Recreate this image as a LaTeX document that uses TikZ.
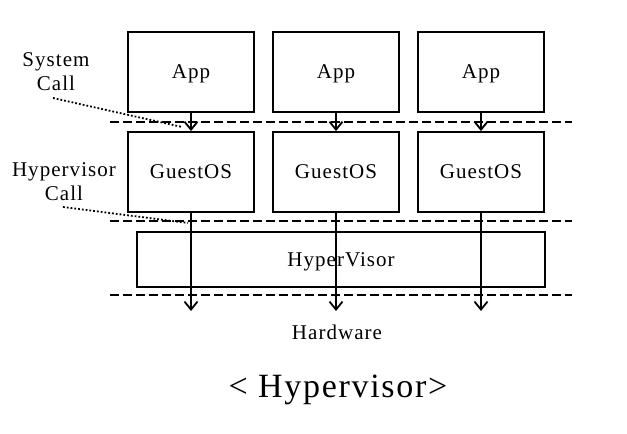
\documentclass[tikz,border=0pt]{standalone}
\usepackage{fontspec}
\setmainfont{Liberation Serif}[LetterSpace=5]
\usetikzlibrary{arrows.meta,positioning}

\tikzset{
    layerbox/.style={draw, line width=1.8pt, minimum width=126pt, minimum height=80pt,
        inner sep=0pt, text depth=0pt, font=\fontsize{21}{24}\selectfont},
    calltip/.style={-{Straight Barb[length=8pt, width=13pt, line width=1.8pt]}, line width=1.8pt},
    boundary/.style={dash pattern=on 9pt off 4pt, line width=1.6pt},
    pointer/.style={dotted, line width=1.8pt},
    sidelabel/.style={align=center, inner sep=0pt, font=\fontsize{21}{24}\selectfont},
}

\begin{document}
\begin{tikzpicture}[x=1pt, y=1pt]
    \useasboundingbox (0,0) rectangle (627,434);

    % applications and guests
    \node[layerbox] (app1) at (191,362) {App};
    \node[layerbox, right=17.2pt of app1] (app2) {App};
    \node[layerbox, right=17.2pt of app2] (app3) {App};
    \node[layerbox, below=18.2pt of app1] (guest1) {GuestOS};
    \node[layerbox, below=18.2pt of app2] (guest2) {GuestOS};
    \node[layerbox, below=18.2pt of app3] (guest3) {GuestOS};
    \node[layerbox, minimum width=408pt, minimum height=55pt] (hyper) at (341,174.5) {HyperVisor};

    % layer boundaries
    \coordinate (bl1) at (110,312); \coordinate (br1) at (572,312);
    \coordinate (bl2) at (110,213); \coordinate (br2) at (572,213);
    \coordinate (bl3) at (110,139); \coordinate (br3) at (572,139);
    \draw[boundary] (bl1) -- (br1);
    \draw[boundary] (bl2) -- (br2);
    \draw[boundary] (bl3) -- (br3);

    % calls
    \foreach \i in {1,2,3} {
        \coordinate (hw\i) at (guest\i.south |- 0,123);
        \draw[calltip] (app\i.south) -- (guest\i.north);
        \draw[calltip] (guest\i.south) -- (hw\i);
    }

    \node[sidelabel] (hardware) at (337,102) {Hardware};
    \node[font=\fontsize{34}{40}\selectfont, inner sep=0pt] (title) at (338,44) {< Hypervisor>};

    % side labels
    \node[sidelabel] (syscall) at (56,362) {System\\Call};
    \node[sidelabel] (hypcall) at (64,252.5) {Hypervisor\\Call};
    \coordinate (sysend) at (182,307);
    \coordinate (hypend) at (188,211);
    \draw[pointer] (53,336) -- (sysend);
    \draw[pointer] (63,227) -- (hypend);
\end{tikzpicture}
\end{document}
